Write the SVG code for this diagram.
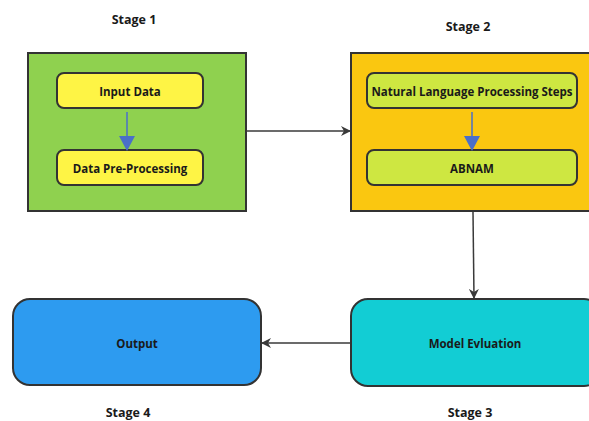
<svg xmlns="http://www.w3.org/2000/svg" width="589" height="421" viewBox="0 0 589 421">
<defs>
<style>
text{font-family:"Open Sans","Liberation Sans",sans-serif;font-weight:bold;fill:#1a1a1a;text-anchor:middle;dominant-baseline:central}
.lbl{font-size:11.5px}
.stage{font-size:12.5px}
.box{stroke:#333;stroke-width:2}
.conn{stroke:#3a3a3a;stroke-width:1.5;fill:none}
.blue{stroke:#4a6fc9;stroke-width:1.5;fill:none}
</style>
<marker id="ah" markerWidth="10" markerHeight="10" refX="9" refY="5" orient="auto" markerUnits="userSpaceOnUse">
<path d="M0,0 L10,5 L0,10 L3,5 Z" fill="#3a3a3a"/>
</marker>
</defs>
<rect width="589" height="421" fill="#fff"/>
<text class="stage" x="134" y="19">Stage 1</text>
<text class="stage" x="468" y="26">Stage 2</text>
<text class="stage" x="128" y="412">Stage 4</text>
<text class="stage" x="470" y="412">Stage 3</text>

<g id="stage1">
<rect class="box" x="28" y="53" width="218" height="158" fill="#8fd14f"/>
</g>
<g id="input-data">
<rect class="box" x="57" y="73" width="146" height="35" rx="7" fill="#fef445"/>
<text class="lbl" x="130" y="91">Input Data</text>
</g>
<g id="data-preprocessing">
<rect class="box" x="57" y="150" width="146" height="35" rx="7" fill="#fef445"/>
<text class="lbl" x="130" y="168">Data Pre-Processing</text>
</g>

<g id="stage2">
<rect class="box" x="351" y="53" width="245" height="158" fill="#fac710"/>
</g>
<g id="nlp-steps">
<rect class="box" x="367" y="73" width="210" height="35" rx="7" fill="#cee741"/>
<text class="lbl" x="472" y="91">Natural Language Processing Steps</text>
</g>
<g id="abnam">
<rect class="box" x="367" y="150" width="210" height="35" rx="7" fill="#cee741"/>
<text class="lbl" x="472" y="168">ABNAM</text>
</g>

<g id="model-evaluation">
<rect class="box" x="351" y="299" width="250" height="87" rx="17" fill="#12cdd4"/>
<text class="lbl" x="475" y="343">Model Evluation</text>
</g>
<g id="output">
<rect class="box" x="13" y="299" width="248" height="86" rx="17" fill="#2d9bf0"/>
<text class="lbl" x="137" y="343">Output</text>
</g>

<g id="connectors">
<line class="blue" x1="127" y1="112" x2="127" y2="137"/>
<path d="M119,136 L135,136 L127,151 Z" fill="#4a6fc9"/>
<line class="blue" x1="472" y1="112" x2="472" y2="137"/>
<path d="M464,136 L480,136 L472,151 Z" fill="#4a6fc9"/>
<line class="conn" x1="246" y1="131" x2="350" y2="131" marker-end="url(#ah)"/>
<line class="conn" x1="473" y1="212" x2="474" y2="298" marker-end="url(#ah)"/>
<line class="conn" x1="350" y1="343" x2="262" y2="343" marker-end="url(#ah)"/>
</g>
</svg>
